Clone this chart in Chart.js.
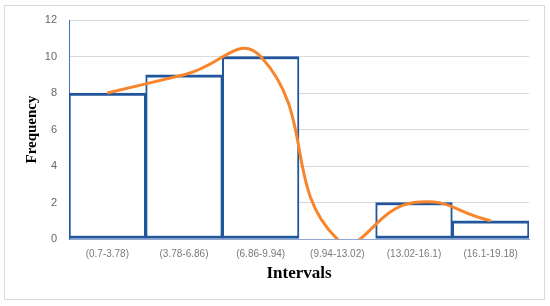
<!DOCTYPE html>
<html>
<head>
<meta charset="utf-8">
<script src="https://cdn.jsdelivr.net/npm/chart.js@4/dist/chart.umd.min.js"></script>
<style>
  html, body { margin: 0; padding: 0; background: #fff; }
  #wrap { position: relative; width: 550px; height: 306px; }
  #frame { position: absolute; left: 4px; top: 5px; width: 539px; height: 293px; border: 1px solid #d9d9d9; pointer-events: none; }
  canvas { position: absolute; left: 0; top: 0; }
</style>
</head>
<body>
<div id="wrap">
  <canvas id="c" width="550" height="306"></canvas>
  <div id="frame"></div>
</div>
<script>
const categories = ["(0.7-3.78)", "(3.78-6.86)", "(6.86-9.94)", "(9.94-13.02)", "(13.02-16.1)", "(16.1-19.18)"];
const frequencies = [8, 9, 10, 0, 2, 1];
const curveValues = [8, 9, 10, 0, 2, 1];
const yTicks = [0, 2, 4, 6, 8, 10, 12];

new Chart(document.getElementById('c'), {
  data: {
    labels: categories,
    datasets: [
      {
        type: 'line',
        data: curveValues,
        borderColor: '#f8852b',
        borderWidth: 3,
        pointRadius: 0,
        tension: 0.5,
        capBezierPoints: false,
        fill: false,
        order: 0
      },
      {
        type: 'bar',
        data: frequencies,
        backgroundColor: '#ffffff',
        borderColor: '#21569c',
        borderWidth: { left: 2, right: 2, top: 3, bottom: 3 },
        borderSkipped: false,
        barPercentage: 1,
        categoryPercentage: 1,
        order: 1
      }
    ]
  },
  options: {
    responsive: false,
    animation: false,
    events: [],
    layout: { padding: { left: 0, top: 20, right: 21, bottom: 0 } },
    plugins: { legend: { display: false }, tooltip: { enabled: false } },
    scales: {
      x: {
        grid: { display: false, drawTicks: false },
        border: { display: true, color: '#8fa9d2', width: 1 },
        ticks: { color: '#7a7a7a', font: { family: 'Liberation Sans', size: 10 }, padding: 9, maxRotation: 0, autoSkip: false },
        title: { display: true, text: 'Intervals', color: '#000', font: { family: 'Liberation Serif', size: 17, weight: 'bold' }, padding: { top: 0, bottom: 22 } },
        afterFit: s => { s.height = 67; }
      },
      y: {
        min: 0, max: 12,
        afterBuildTicks: s => { s.ticks = yTicks.map(v => ({ value: v })); },
        grid: { color: '#d9d9d9', lineWidth: 1, drawTicks: false },
        border: { display: true, color: '#3f76b8', width: 1 },
        ticks: { color: '#666666', font: { family: 'Liberation Sans', size: 11 }, padding: 12 },
        title: { display: true, text: 'Frequency', color: '#000', font: { family: 'Liberation Serif', size: 15, weight: 'bold' }, padding: { top: 23, bottom: 0 } },
        afterFit: s => { s.width = 69; }
      }
    }
  }
});
</script>
</body>
</html>
